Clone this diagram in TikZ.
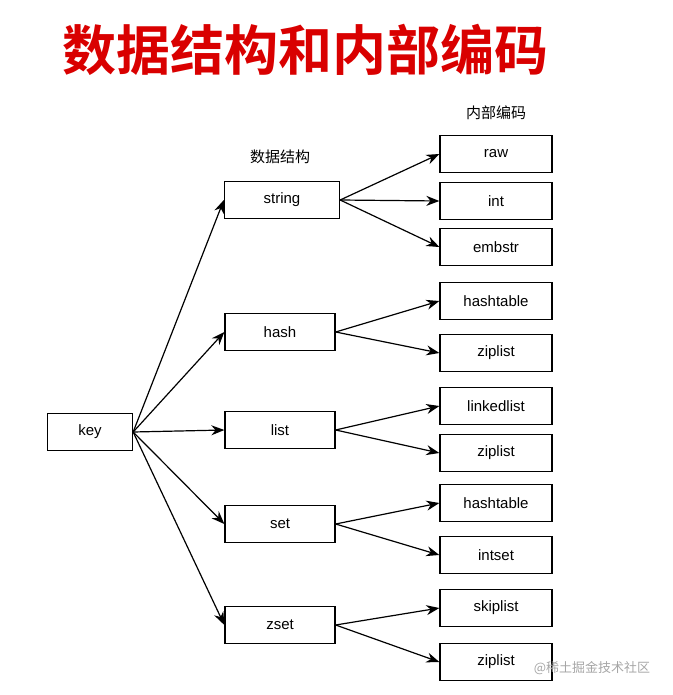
\documentclass[tikz,border=0pt]{standalone}
\usepackage{fontspec}
\setmainfont{Liberation Sans}
\newfontfamily\cjk{Noto Sans CJK SC}
\newfontfamily\cjkbold{Noto Sans CJK SC Bold}
\usetikzlibrary{arrows.meta, positioning}

\begin{document}
\begin{tikzpicture}[x=1pt, y=-1pt,
  box/.style={draw, line width=1.3pt, minimum height=37pt, font=\fontsize{15}{17}\selectfont},
  type/.style={box, minimum width=110pt},
  enc/.style={box, minimum width=112pt},
  link/.style={-{Stealth[length=13pt,width=10pt]}, line width=1.2pt}]
  \useasboundingbox (0,0) rectangle (672,695);

  \node[text=red!85!black, font=\cjkbold\fontsize{54}{58}\selectfont] (title) at (305,50) {数据结构和内部编码};
  \node[font=\cjk\fontsize{15}{17}\selectfont] (typelabel) at (280,157) {数据结构};
  \node[font=\cjk\fontsize{15}{17}\selectfont] (enclabel) at (496,113) {内部编码};

  \node[box, minimum width=85pt] (key) at (90,432) {key};

  \node[type, minimum width=115pt] (string) at (282,200) {string};
  \node[type] (hash) at (280,332) {hash};
  \node[type] (list) at (280,430) {list};
  \node[type] (set) at (280,524) {set};
  \node[type] (zset) at (280,625) {zset};

  \node[enc] (raw) at (496,154) {raw};
  \node[enc] (int) at (496,201) {int};
  \node[enc] (embstr) at (496,247) {embstr};
  \node[enc] (hashtable1) at (496,301) {hashtable};
  \node[enc] (ziplist1) at (496,353) {ziplist};
  \node[enc] (linkedlist) at (496,406) {linkedlist};
  \node[enc] (ziplist2) at (496,453) {ziplist};
  \node[enc] (hashtable2) at (496,503) {hashtable};
  \node[enc] (intset) at (496,555) {intset};
  \node[enc] (skiplist) at (496,608) {skiplist};
  \node[enc] (ziplist3) at (496,662) {ziplist};

  % key -> types
  \foreach \t in {string, hash, list, set, zset}
    \draw[link] (key.east) -- (\t.west);

  % types -> encodings
  \foreach \t/\e in {string/raw, string/int, string/embstr, hash/hashtable1, hash/ziplist1,
                     list/linkedlist, list/ziplist2, set/hashtable2, set/intset,
                     zset/skiplist, zset/ziplist3}
    \draw[link] (\t.east) -- (\e.west);

  \node[text=gray!70, font=\cjk\fontsize{13}{15}\selectfont] (mark) at (592,668) {@稀土掘金技术社区};
\end{tikzpicture}
\end{document}
